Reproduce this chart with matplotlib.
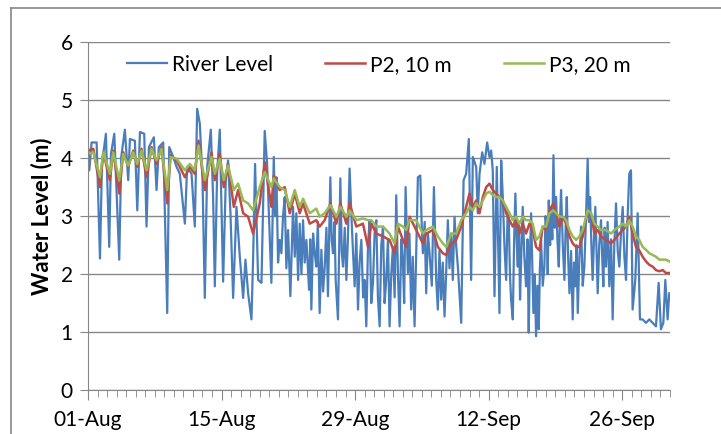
import numpy as np
import matplotlib
matplotlib.use('Agg')
import matplotlib.pyplot as plt
from matplotlib.lines import Line2D
from matplotlib.ticker import FixedLocator, MultipleLocator

plt.rcParams['font.family'] = ['Lato', 'DejaVu Sans']

# days since 01-Aug, and levels in m
river_day = [0.00, 0.14, 0.38, 0.91, 1.26, 1.47, 1.88, 2.23, 2.41, 2.76, 3.28, 3.49, 3.87, 4.22, 4.40,
             4.92, 5.17, 5.45, 5.90, 6.14, 6.39, 6.91, 7.19, 7.43, 7.89, 8.31, 8.52, 8.94, 9.29, 9.63,
             10.16, 10.40, 10.86, 11.20, 11.45, 11.73, 12.01, 12.25, 12.50, 12.88, 13.12, 13.30, 13.54,
             13.82, 14.17, 14.45, 14.69, 14.94, 15.22, 15.57, 15.92, 16.27, 16.51, 16.79, 17.14, 17.31,
             17.52, 17.84, 18.19, 18.53, 18.78, 19.23,
             19.48, 19.62, 19.76, 19.93, 20.10, 20.28, 20.45, 20.63, 20.80, 20.98,
             21.22, 21.50, 21.68, 21.85, 22.03, 22.20, 22.38, 22.55, 22.72, 22.90,
             23.18, 23.30, 23.42, 23.60, 23.77, 23.94, 24.10, 24.29, 24.47, 24.65,
             24.82, 25.00, 25.16, 25.41, 25.55, 25.69, 25.85, 25.97, 26.21, 26.46,
             26.60, 26.74, 26.92, 27.09, 27.25, 27.43, 27.61, 27.78, 27.96, 28.13,
             28.31, 28.48, 28.66, 28.85, 29.01, 29.18, 29.36, 29.53, 29.70, 29.88,
             30.05, 30.23, 30.40, 30.58, 30.75, 30.93, 31.10, 31.27, 31.45, 31.62,
             31.80, 31.97, 32.15, 32.32, 32.50, 32.67, 32.85, 33.02, 33.15, 33.30,
             33.54, 33.70, 33.89, 34.05, 34.24, 34.59, 34.84, 34.98, 35.11, 35.30,
             35.46, 35.64, 35.81, 36.05, 36.27, 36.51, 36.68, 36.85, 37.03, 37.20,
             37.38, 37.55, 37.73, 37.90, 38.08, 38.25, 38.43, 38.60, 38.78,
             39.13, 39.38, 39.65, 39.93, 40.17, 40.35, 40.70, 40.87, 41.05, 41.33,
             41.57, 41.85, 42.09, 42.27, 42.44, 42.62, 42.86, 43.14,
             43.32, 43.49, 43.66, 43.84, 44.00, 44.12, 44.24, 44.36, 44.54, 44.68,
             44.81, 44.94, 45.06, 45.18, 45.30, 45.44, 45.58, 45.75, 45.93, 46.08,
             46.21, 46.33, 46.46, 46.58, 46.70, 46.84, 46.98, 47.12, 47.26, 47.38,
             47.50, 47.68, 47.85, 47.97, 48.10, 48.20, 48.31, 48.45, 48.56, 48.68,
             48.80, 48.94, 49.08, 49.22, 49.36, 49.48, 49.60, 49.78, 49.95, 50.08,
             50.20, 50.34, 50.48, 50.65, 50.82, 50.96, 51.10, 51.22, 51.35, 51.52,
             51.70, 51.87, 52.04, 52.20, 52.39, 52.52, 52.64, 52.78, 52.91, 53.05,
             53.19, 53.32, 53.44, 53.60, 53.79, 53.91, 54.03, 54.17, 54.31, 54.48,
             54.66, 54.84, 55.01, 55.18, 55.36, 55.54, 55.71, 55.88, 56.06, 56.24,
             56.41, 56.58, 56.75, 56.93, 57.10,
             57.38, 57.63, 57.87, 58.15, 58.50, 58.85, 59.20, 59.55, 59.83, 60.07,
             60.32, 60.53, 60.77, 60.94]
river_level = [4.19, 3.79, 4.27, 4.27, 2.27, 3.90, 4.42, 2.47, 4.07, 4.42, 2.25, 4.02, 4.49, 3.62, 4.33,
               4.30, 3.10, 4.45, 4.42, 2.82, 4.19, 4.36, 3.45, 4.19, 4.27, 1.33, 4.19, 4.02, 3.85, 3.73,
               2.87, 3.85, 3.73, 2.82, 4.85, 4.59, 3.62, 1.59, 3.85, 4.49, 3.33, 1.79, 3.73,
               4.49, 1.87, 3.62, 3.96, 3.05, 1.59, 3.16, 2.30, 1.59, 2.25, 1.67, 1.22, 2.25,
               3.90, 1.90, 1.85, 4.47, 3.90, 1.85,
               4.02, 3.00, 3.67, 2.20, 2.59, 2.36, 3.00, 3.33, 2.10, 2.76,
               1.62, 3.16, 2.30, 3.05, 1.90, 2.87, 2.00, 2.93, 2.20, 2.59,
               1.73, 2.60, 1.39, 2.70, 2.36, 2.13, 2.90, 1.33, 2.42, 1.70,
               2.13, 2.80, 1.62, 3.67, 2.60, 2.36, 2.90, 1.90, 1.22, 3.65,
               2.40, 2.13, 2.80, 1.90, 2.60, 3.82, 3.05, 2.40, 1.79, 2.70,
               1.39, 2.20, 2.59, 1.60, 1.90, 1.10, 2.50, 2.93, 1.50, 1.85,
               2.70, 2.93, 1.60, 1.10, 2.50, 2.82, 1.50, 1.90, 2.60, 1.10,
               2.00, 2.47, 1.60, 3.36, 2.00, 1.10, 2.60, 2.19, 1.50, 3.50,
               2.02, 2.70, 1.39, 2.30, 1.10, 3.67, 3.70, 2.90, 2.36, 2.90,
               1.67, 2.70, 2.36, 1.80, 3.50, 1.90, 1.39, 2.40, 1.56, 2.20,
               1.27, 2.00, 2.93, 2.10, 2.70, 1.90, 2.99, 2.50, 2.13,
               1.16, 3.62, 3.73, 4.33, 1.90, 4.02, 3.85, 3.05, 3.73, 4.10,
               3.90, 4.27, 4.02, 4.13, 3.79, 1.62, 3.85, 1.33,
               3.96, 3.33, 2.50, 1.90, 3.10, 2.93, 2.00, 1.56, 1.22, 2.60,
               3.39, 2.60, 2.13, 2.90, 1.56, 2.40, 3.16, 2.30, 1.79, 2.60,
               0.99, 2.30, 3.05, 2.20, 1.33, 2.00, 0.93, 1.80, 1.05, 2.10,
               2.59, 1.80, 2.13, 3.00, 2.82, 2.00, 3.27, 2.50, 3.16, 2.60,
               4.05, 2.80, 3.33, 2.60, 2.13, 2.90, 3.45, 2.50, 1.90, 2.80,
               3.33, 2.30, 1.67, 2.40, 1.22, 2.20, 1.79, 2.50, 1.33, 2.30,
               2.82, 1.80, 2.13, 2.90, 3.99, 2.90, 3.33, 2.50, 1.90, 2.60,
               3.16, 2.40, 1.67, 2.50, 2.93, 2.30, 1.79, 2.80, 2.13, 2.90,
               1.79, 2.60, 1.22, 2.50, 3.22, 2.40, 2.13, 2.70, 3.16, 2.30,
               1.90, 3.00, 3.73, 3.79, 1.39,
               1.90, 3.05, 1.22, 1.22, 1.16, 1.22, 1.16, 1.10, 1.85, 1.05,
               1.16, 1.90, 1.22, 1.67]
assert len(river_day) == len(river_level)

p2_day = [0.00, 0.56, 1.26, 1.61, 2.30, 2.65, 3.28, 3.70, 4.22, 4.75, 5.17, 5.62, 6.14, 6.67, 7.19,
          7.71, 8.31, 8.66, 9.29, 10.16, 10.68, 11.20, 11.59, 12.25, 12.95, 13.30, 13.82, 14.24,
          14.69, 15.29, 15.74, 16.27, 16.79, 17.31, 18.01, 18.53, 19.23, 19.48, 20.10, 20.63, 21.15,
          21.68, 22.20, 22.55, 23.25, 23.94, 24.29, 24.82, 25.41, 26.04, 26.46, 27.09, 27.43, 28.13,
          28.83, 29.36, 29.71, 30.23, 30.93, 31.62, 32.15, 32.50, 33.02, 33.37, 33.72, 34.42, 35.11,
          35.46, 36.16, 36.68, 37.21, 37.56, 38.08, 38.60, 39.13, 39.65, 40.00, 40.35, 40.70, 41.05,
          41.40, 41.75, 42.09, 42.44, 42.79, 43.14, 43.49, 43.84, 44.19, 44.54, 44.88, 45.23, 45.58,
          45.93, 46.28, 46.63, 46.98, 47.33, 47.68, 48.03, 48.38, 48.80, 49.08, 49.43, 49.78, 50.13,
          50.48, 50.82, 51.17, 51.52, 51.87, 52.39, 52.74, 53.09, 53.44, 53.79, 54.31, 54.84, 55.18,
          55.71, 56.06, 56.41, 56.75, 57.10, 57.45, 57.80, 58.15, 58.50, 58.85, 59.20, 59.55, 59.90,
          60.25, 60.59, 60.94]
p2_level = [4.13, 4.16, 3.50, 4.10, 3.62, 4.13, 3.39, 4.10, 3.85, 4.13, 3.85, 4.16, 3.67, 4.19, 3.90,
            4.19, 3.22, 4.05, 3.96, 3.67, 3.85, 3.73, 4.30, 3.45, 4.10, 3.62, 4.07, 3.50,
            3.90, 3.16, 3.45, 3.05, 2.99, 2.70, 3.22, 3.93, 3.16, 3.70, 3.45, 3.50, 3.05,
            3.39, 3.05, 3.22, 2.87, 2.93, 2.82, 2.93, 3.22, 2.87, 3.22, 2.87, 3.22, 2.82,
            2.87, 2.47, 2.87, 2.70, 2.65, 2.59, 2.36, 2.82, 2.59, 2.47, 2.99, 2.76, 2.53,
            2.70, 2.76, 2.47, 2.36, 2.33, 2.53, 2.59, 2.82, 3.16, 3.39, 3.16, 3.27, 3.05,
            3.33, 3.50, 3.56, 3.45, 3.39, 3.33, 3.27, 3.05, 2.93, 2.82, 2.93, 2.70, 2.87,
            2.70, 2.87, 2.76, 2.47, 2.41, 2.82, 2.76, 3.10, 3.22, 3.05, 2.82, 2.99, 2.87,
            2.65, 2.53, 2.47, 2.47, 2.65, 3.10, 3.05, 2.70, 2.76, 2.65, 2.59, 2.53, 2.59,
            2.70, 2.76, 2.82, 2.99, 2.70, 2.47, 2.41, 2.30, 2.22, 2.16, 2.13, 2.07, 2.05,
            2.07, 2.02, 2.02]

p3_day = p2_day
p3_level = [4.07, 4.10, 3.67, 4.10, 3.73, 4.10, 3.62, 4.07, 3.87, 4.10, 3.90, 4.13, 3.79, 4.16, 3.96,
            4.16, 3.45, 4.02, 3.99, 3.79, 3.90, 3.79, 4.22, 3.62, 4.02, 3.73, 3.99, 3.62,
            3.87, 3.45, 3.56, 3.27, 3.22, 3.10, 3.50, 3.76, 3.50, 3.65, 3.50, 3.45, 3.16,
            3.45, 3.16, 3.30, 3.05, 3.13, 2.99, 3.05, 3.19, 2.99, 3.16, 2.99, 3.10, 2.93,
            2.96, 2.93, 2.93, 2.82, 2.82, 2.70, 2.53, 2.87, 2.82, 2.76, 2.93, 2.93, 2.70,
            2.76, 2.82, 2.65, 2.53, 2.47, 2.70, 2.70, 2.93, 3.05, 3.16, 3.10, 3.22, 3.16,
            3.27, 3.39, 3.42, 3.36, 3.33, 3.33, 3.27, 3.16, 3.05, 2.93, 2.99, 2.87, 2.99,
            2.93, 2.93, 2.87, 2.59, 2.65, 2.82, 2.82, 3.05, 3.10, 3.05, 2.99, 2.99, 2.93,
            2.76, 2.65, 2.59, 2.65, 2.76, 3.10, 3.05, 2.87, 2.82, 2.76, 2.76, 2.70, 2.76,
            2.82, 2.87, 2.82, 2.93, 2.82, 2.65, 2.59, 2.47, 2.42, 2.36, 2.33, 2.30, 2.25,
            2.25, 2.25, 2.22]

tick_days = [0, 14, 28, 42, 56]
tick_labels = ['01-Aug', '15-Aug', '29-Aug', '12-Sep', '26-Sep']

grey = '#868686'
fig = plt.figure(figsize=(7.21, 4.34), dpi=100)
ax = fig.add_axes([0.122, 0.101, 0.807, 0.802])

ax.plot(river_day, river_level, color='#4A7EBB', lw=1.6, label='River Level')
ax.plot(p2_day, p2_level, color='#BE4B48', lw=1.8, label='P2, 10 m')
ax.plot(p3_day, p3_level, color='#98B954', lw=1.8, label='P3, 20 m')

ax.set_xlim(0, 61)
ax.set_ylim(0, 6)
ax.set_yticks(range(7))
ax.xaxis.set_major_locator(FixedLocator(tick_days))
ax.xaxis.set_minor_locator(MultipleLocator(1))
ax.set_xticklabels(tick_labels)
ax.yaxis.grid(True, color=grey, lw=1)
ax.set_axisbelow(True)
for s in ['top', 'right']:
    ax.spines[s].set_visible(False)
for s in ['left', 'bottom']:
    ax.spines[s].set_color(grey)
ax.tick_params(axis='both', which='both', colors=grey, labelcolor='black', direction='out')
ax.tick_params(axis='x', which='major', length=7, labelsize=15, pad=7)
ax.tick_params(axis='x', which='minor', length=5)
ax.tick_params(axis='y', length=6, labelsize=15, pad=5)
ax.set_ylabel('Water Level (m)', fontsize=16, fontweight='bold', labelpad=6)

ax.legend(loc='center', bbox_to_anchor=(0.5, 0.935), ncol=3, frameon=False, fontsize=15,
          handlelength=1.9, columnspacing=2.5, handletextpad=0.25)

# chart area border of the cropped excel chart
fig.add_artist(Line2D([11/721, 11/721], [0, 1 - 8/434], color=grey, lw=1.2))
fig.add_artist(Line2D([11/721, 1], [1 - 8/434, 1 - 8/434], color=grey, lw=1.2))

fig.savefig('out.png', dpi=100)
